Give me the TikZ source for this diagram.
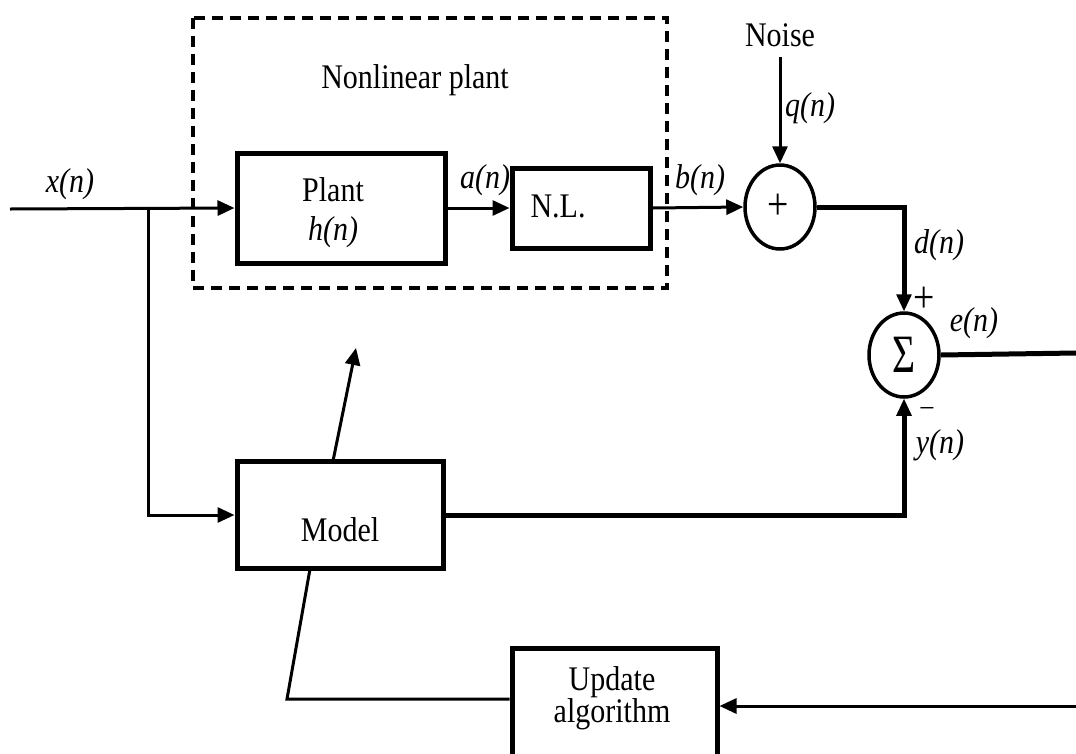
\documentclass[tikz,border=0pt]{standalone}
\usepackage{fontspec}
\setmainfont{Liberation Serif}
\usetikzlibrary{arrows.meta,shapes.geometric,calc}
\newcommand\tallx[1]{\scalebox{1}[1.15]{#1}}
\begin{document}
\begin{tikzpicture}[x=1pt,y=-1pt,
  font=\fontsize{30}{34}\selectfont,
  blk/.style={draw,line width=5pt,inner sep=0pt},
  sumnode/.style={draw,ellipse,line width=3.5pt,minimum width=70pt,minimum height=84pt,inner sep=0pt},
  lbl/.style={inner sep=0pt,font=\fontsize{30}{34}\selectfont\itshape},
  sgn/.style={inner sep=0pt,font=\fontsize{36}{38}\selectfont},
  txt/.style={inner sep=0pt,align=center},
  arr/.style={line width=3pt,-{Triangle[length=17pt,width=15pt]}},
  ln/.style={line width=3pt},
  thk/.style={line width=5pt},
  dsh/.style={line width=4.5pt,dash pattern=on 11pt off 7pt}
]
\clip (0,0) rectangle (1076,753);
% dashed box
\draw[dsh] (193,18) rectangle (667,288);
\node[txt] (nlp) at (415,80) {\tallx{Nonlinear plant}};
% blocks
\node[blk,minimum width=208pt,minimum height=110pt] (plant) at (341,208) {};
\node[txt] (planttxt) at (333,190) {\tallx{Plant}};
\node[lbl] (htxt) at (333,232) {\tallx{h(n)}};
\node[blk,minimum width=138pt,minimum height=80pt] (nl) at (581,208) {};
\node[txt] (nltxt) at (558,206) {\tallx{N.L.}};
\node[sumnode] (adder) at (780,207) {};
\node[sgn] (plus) at (778,207) {\scalebox{1.05}[1.25]{+}};
\node[sumnode] (sigma) at (904,355) {};
\node[txt] (sigtxt) at (904,355) {\scalebox{1.1}[1.5]{\fontsize{36}{40}\selectfont Σ}};
\node[blk,minimum width=206pt,minimum height=107pt] (model) at (340,515) {};
\node[txt] (modeltxt) at (340,530) {\tallx{Model}};
\node[blk,minimum width=205pt,minimum height=140pt] (upd) at (614.5,718) {};
\node[txt] (updtxt) at (612,698) {\tallx{Update}\\[-2pt]\tallx{algorithm}};
\node[txt] (noise) at (780,35) {\tallx{Noise}};
% labels
\node[lbl] (xl) at (70,184) {\tallx{x(n)}};
\node[lbl] (al) at (485,180) {\tallx{a(n)}};
\node[lbl] (bl) at (700,180) {\tallx{b(n)}};
\node[lbl] (ql) at (810,108) {\tallx{q(n)}};
\node[lbl] (dl) at (939,245) {\tallx{d(n)}};
\node[sgn] (pl) at (924,300) {\scalebox{1.05}[1.25]{+}};
\node[lbl] (el) at (974,323) {\tallx{e(n)}};
\node[inner sep=0pt,font=\fontsize{28}{28}\selectfont] (mi) at (927,412) {−};
\node[lbl] (yl) at (940,445) {\tallx{y(n)}};
% coordinates
\coordinate (xin) at (10,209);
\coordinate (br) at (148,209);
\coordinate (eout) at (1076,353);
\coordinate (ein) at (1076,706);
\coordinate (mtop) at (333,461);
\coordinate (mtip) at (356,348);
\coordinate (mbot) at (310,569);
\coordinate (corner) at (287,699);
% connectors
\draw[arr] (xin) -- (plant.west);
\draw[arr] (br) |- (model.west);
\draw[arr] (plant.east) -- (nl.west);
\draw[arr] (nl.east) -- (adder.west);
\draw[arr] (780,57) -- (adder.north);
\draw[thk] (adder.east) -| ($(sigma.north)+(0,-12)$);
\draw[arr] ($(sigma.north)+(0,-16)$) -- (sigma.north);
\draw[thk] (sigma.east) -- (eout);
\draw[thk] (model.east) -| ($(sigma.south)+(0,12)$);
\draw[arr] ($(sigma.south)+(0,16)$) -- (sigma.south);
\draw[arr] (mtop) -- (mtip);
\draw[ln] (mbot) -- (corner) -- (corner -| upd.west);
\draw[arr] (ein) -- (ein -| upd.east);
\end{tikzpicture}
\end{document}
